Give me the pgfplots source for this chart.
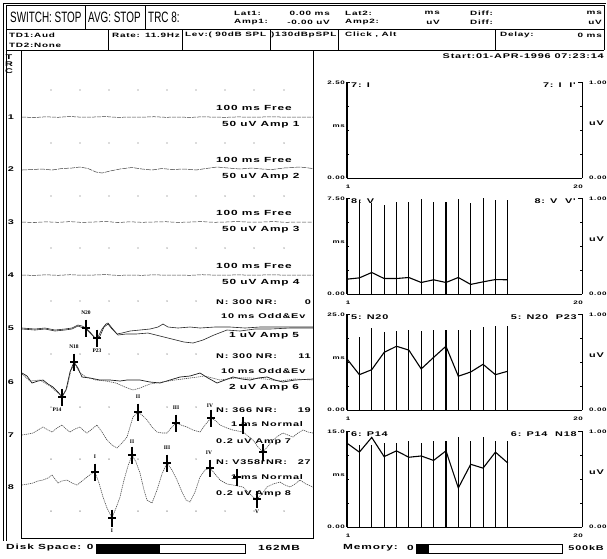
\documentclass[border=0pt]{standalone}
\usepackage{fontspec}
\usepackage{pgfplots}
\usepackage{pgfplotstable}
\pgfplotsset{compat=1.18}
\setmainfont{Liberation Sans}
\newfontfamily\scr{Liberation Sans}[FakeStretch=1.6,LetterSpace=12]
\newfontfamily\hdr{Liberation Sans}[FakeStretch=0.66]
\newfontfamily\rom{Liberation Serif}
\newcommand{\st}[1]{{\scr\bfseries\fontsize{7.4}{7.4}\selectfont #1}}
\newcommand{\sth}[1]{{\scr\bfseries\fontsize{6.2}{6.2}\selectfont #1}}
\newcommand{\stn}[1]{{\scr\bfseries\fontsize{6.8}{6.8}\selectfont #1}}
\newcommand{\sm}[1]{{\scr\bfseries\fontsize{5}{5}\selectfont #1}}
\newcommand{\rn}[1]{{\rom\bfseries\fontsize{5.5}{5.5}\selectfont #1}}

\pgfplotstableread{
i amp ms
1 0.97 1.16
2 0.98 1.26
3 0.95 1.68
4 0.93 1.21
5 0.96 1.21
6 0.96 1.29
7 0.99 0.90
8 0.96 1.11
9 0.96 0.90
10 0.99 1.29
11 0.95 0.75
12 1.00 0.95
13 0.98 1.13
14 0.98 1.11
}\tabV
\pgfplotstableread{
i amp ms
1 0.82 13.3
2 0.76 9.2
3 0.85 10.5
4 0.81 15.0
5 0.82 16.6
6 0.83 15.6
7 0.82 10.7
8 0.83 13.7
9 0.83 16.6
10 0.83 8.8
11 0.83 9.9
12 0.86 11.9
13 0.88 9.2
14 0.88 10.1
}\tabN
\pgfplotstableread{
i amp ms
1 0.85 13.1
2 0.85 11.7
3 0.85 14.0
4 0.87 11.0
5 0.87 11.9
6 0.90 10.9
7 0.88 11.1
8 0.90 10.4
9 0.90 11.9
10 0.94 6.1
11 0.90 9.8
12 0.94 9.2
13 0.90 11.7
14 0.90 10.0
}\tabP

\pgfplotsset{mini/.style={width=235pt,height=96pt,scale only axis,xmin=1,xmax=20,ymin=0,ymax=1,hide axis,clip=false,anchor=center}}
\newcommand{\frameit}{%
  \draw[line width=1.8pt] (rel axis cs:0,0) -- (rel axis cs:0,1);
  \draw[line width=0.5pt] (rel axis cs:0,1) -- (rel axis cs:0.012,1);
  \draw[line width=0.9pt] (rel axis cs:0,0) -- (rel axis cs:1,0);
  \draw[line width=0.9pt] (rel axis cs:1,0) -- (rel axis cs:1,1);
  \draw[line width=0.6pt] (rel axis cs:1,1) -- (rel axis cs:0.985,1);
  \draw[line width=0.6pt] (rel axis cs:1,0.25) -- (rel axis cs:0.99,0.25);
  \draw[line width=0.6pt] (rel axis cs:1,0.5) -- (rel axis cs:0.99,0.5);
  \draw[line width=0.6pt] (rel axis cs:1,0.75) -- (rel axis cs:0.99,0.75);
  \draw[line width=0.6pt] (rel axis cs:0,0.25) -- (rel axis cs:0.01,0.25);
  \draw[line width=0.6pt] (rel axis cs:0,0.5) -- (rel axis cs:0.01,0.5);
  \draw[line width=0.6pt] (rel axis cs:0,0.75) -- (rel axis cs:0.01,0.75);
}
\newcommand{\chartlabels}[5]{% cy, top label, left title, right title, right x
  \node[anchor=east,inner sep=0] at (345,#1-47) {\sm{#2}};
  \node[anchor=east,inner sep=0] at (345,#1-4) {\sm{ms}};
  \node[anchor=east,inner sep=0] at (345,#1+48) {\sm{0.00}};
  \node[inner sep=0] at (348,#1+57) {\sm{1}};
  \node[inner sep=0] at (578,#1+57) {\sm{20}};
  \node[anchor=west,inner sep=0] at (589,#1-47) {\sm{1.00}};
  \node[anchor=west,inner sep=0] at (589,#1-7) {\stn{uV}};
  \node[anchor=west,inner sep=0] at (589,#1+48) {\sm{0.00}};
  \node[anchor=west,inner sep=0] at (351,#1-45) {\stn{#3}};
  \node[anchor=east,inner sep=0] at (#5,#1-45) {\stn{#4}};
}

\begin{document}
\begin{tikzpicture}[x=1pt,y=-1pt]
\path[use as bounding box] (0,0) rectangle (607,558);
\fill[white] (0,0) rectangle (607,558);
% outer frame
\draw[line width=0.8pt] (3,3) -- (606,3);
\draw[line width=0.8pt] (3,3) -- (3,541);
\draw[line width=0.5pt] (6,5) -- (6,541);
% header row 1
\draw[line width=0.8pt] (6,5) rectangle (604,29);
\draw[line width=0.8pt] (85,5) -- (85,29);
\draw[line width=0.8pt] (145,5) -- (145,29);
\node[anchor=west,inner sep=0] at (10,17.5) {\hdr\fontsize{15}{15}\selectfont SWITCH: STOP};
\node[anchor=west,inner sep=0] at (88,17.5) {\hdr\fontsize{15}{15}\selectfont AVG: STOP};
\node[anchor=west,inner sep=0] at (148,17.5) {\hdr\fontsize{15}{15}\selectfont TRC 8:};
\node[anchor=west,inner sep=0] at (234,13) {\sth{Lat1:}};
\node[anchor=west,inner sep=0] at (234,22) {\sth{Amp1:}};
\node[anchor=east,inner sep=0] at (330,13) {\sth{0.00 ms}};
\node[anchor=east,inner sep=0] at (330,22) {\sth{-0.00 uV}};
\node[anchor=west,inner sep=0] at (345,13) {\sth{Lat2:}};
\node[anchor=west,inner sep=0] at (345,22) {\sth{Amp2:}};
\node[anchor=east,inner sep=0] at (440,13) {\sth{ms}};
\node[anchor=east,inner sep=0] at (440,22) {\sth{uV}};
\node[anchor=west,inner sep=0] at (470,13) {\sth{Diff:}};
\node[anchor=west,inner sep=0] at (470,22) {\sth{Diff:}};
\node[anchor=east,inner sep=0] at (602,13) {\sth{ms}};
\node[anchor=east,inner sep=0] at (602,22) {\sth{uV}};
% header row 2
\draw[line width=0.8pt] (6,50) -- (604,50);
\draw[line width=0.8pt] (604,29) -- (604,50);
\foreach \xx in {108,182,270,338,495} {\draw[line width=0.8pt] (\xx,29) -- (\xx,50);}
\node[anchor=west,inner sep=0] at (9,35) {\sth{TD1:Aud}};
\node[anchor=west,inner sep=0] at (9,45) {\sth{TD2:None}};
\node[anchor=west,inner sep=0] at (112,35) {\sth{Rate:}};
\node[anchor=east,inner sep=0] at (180,35) {\sth{11.9Hz}};
\node[anchor=west,inner sep=0] at (185,35) {\sth{Lev:( 90dB SPL}};
\node[anchor=west,inner sep=0] at (271,35) {\sth{)130dBpSPL}};
\node[anchor=west,inner sep=0] at (345,35) {\sth{Click , Alt}};
\node[anchor=west,inner sep=0] at (500,35) {\sth{Delay:}};
\node[anchor=east,inner sep=0] at (602,35) {\sth{0 ms}};
\node[anchor=east,inner sep=0] at (604,56) {\stn{Start:01-APR-1996 07:23:14}};
% trace numbers
\node[inner sep=0] at (9,57) {\stn{T}};
\node[inner sep=0] at (9,64) {\stn{R}};
\node[inner sep=0] at (9,71) {\stn{C}};
\foreach \k/\yy in {1/117,2/169,3/222,4/275,5/328,6/382,7/435,8/487} {\node[inner sep=0] at (11,\yy) {\stn{\k}};}
% trace text
\foreach \k/\yy in {1/117,2/169,3/222,4/275} {
  \node[anchor=west,inner sep=0] at (216,\yy-9) {\st{100 ms Free}};
  \node[anchor=west,inner sep=0] at (222,\yy+8) {\st{50 uV Amp \k}};
}
\node[anchor=west,inner sep=0] at (216,302) {\stn{N: 300 NR:}};
\node[anchor=east,inner sep=0] at (311,302) {\stn{0}};
\node[anchor=west,inner sep=0] at (221,316) {\stn{10 ms Odd\&Ev}};
\node[anchor=west,inner sep=0] at (229,336) {\st{1 uV Amp 5}};
\node[anchor=west,inner sep=0] at (216,356) {\stn{N: 300 NR:}};
\node[anchor=east,inner sep=0] at (311,356) {\stn{11}};
\node[anchor=west,inner sep=0] at (221,371) {\stn{10 ms Odd\&Ev}};
\node[anchor=west,inner sep=0] at (229,388) {\st{2 uV Amp 6}};
\node[anchor=west,inner sep=0] at (216,410) {\stn{N: 366 NR:}};
\node[anchor=east,inner sep=0] at (311,410) {\stn{19}};
\node[anchor=west,inner sep=0] at (231,424) {\stn{1 ms Normal}};
\node[anchor=west,inner sep=0] at (216,442) {\stn{0.2 uV Amp 7}};
\node[anchor=west,inner sep=0] at (216,462) {\stn{N: V358rNR:}};
\node[anchor=east,inner sep=0] at (311,462) {\stn{27}};
\node[anchor=west,inner sep=0] at (231,477) {\stn{1 ms Normal}};
\node[anchor=west,inner sep=0] at (216,494) {\stn{0.2 uV Amp 8}};

% left panel
\begin{axis}[at={(167pt,-294pt)},anchor=center,width=292pt,height=488pt,scale only axis,
  xmin=21,xmax=313,ymin=50,ymax=538,y dir=reverse,xtick=\empty,ytick=\empty,
  axis line style={line width=0.9pt},clip=false]
\addplot[only marks,mark=*,mark size=0.45pt,black!45] coordinates {
(51,90)(80,90)(109,90)(138,90)(167,90)(196,90)(225,90)(254,90)(284,90)
(51,143)(80,143)(109,143)(138,143)(167,143)(196,143)(225,143)(254,143)(284,143)
(51,196)(80,196)(109,196)(138,196)(167,196)(196,196)(225,196)(254,196)(284,196)
(51,248)(80,248)(109,248)(138,248)(167,248)(196,248)(225,248)(254,248)(284,248)
(51,301)(80,301)(109,301)(138,301)(167,301)(196,301)
(51,354)(80,354)(109,354)(138,354)(167,354)(196,354)
(51,407)(80,407)(109,407)(167,407)(196,407)
(51,459)(80,459)(109,459)(138,459)(196,459)
(51,511)(80,511)(138,511)(167,511)(196,511)(225,511)(254,511)(284,511)
};
% traces 1-4
\addplot[black!75,line width=0.5pt,dash pattern=on 4pt off 1pt] coordinates {(22,117)(34,117.5)(46,116.8)(58,117.3)(70,116.5)(82,117.2)(94,117)(106,116.6)(118,117.4)(130,117)(142,117.2)(154,116.7)(166,117.3)(178,117)(190,117.4)(202,116.8)(214,117.1)(226,117.3)(238,116.9)(250,117.2)(262,117)(274,116.8)(286,117.2)(298,117)(313,117)};
\addplot[black!75,line width=0.5pt,dash pattern=on 5pt off 1pt] coordinates {(22,170)(32,169.5)(42,169)(52,170)(62,168.5)(72,168)(80,167)(88,168.5)(96,172)(102,173)(110,171)(120,169)(132,167.5)(142,169)(152,170)(162,168.5)(172,169.5)(184,169)(196,170)(206,168.5)(217,167)(228,168)(240,169)(252,168)(262,169)(272,169.5)(284,168)(300,167)(313,168.5)};
\addplot[black!75,line width=0.5pt,dash pattern=on 4pt off 1.5pt] coordinates {(22,222)(34,222.5)(46,221.8)(58,222.3)(70,221.6)(82,222.4)(94,222)(106,221.5)(118,222.5)(130,221.8)(142,222.3)(154,222)(166,221.7)(178,222.4)(190,222)(202,221.6)(214,222.3)(226,222)(238,221.5)(250,222.2)(262,222)(274,221.6)(286,222.3)(298,222)(313,222)};
\addplot[black!75,line width=0.5pt,dash pattern=on 4pt off 1pt] coordinates {(22,275)(34,275.4)(46,274.8)(58,275.3)(70,274.7)(82,275.2)(94,275)(106,274.6)(118,275.4)(130,275)(142,275.3)(154,274.8)(166,275.2)(178,275)(190,275.3)(202,274.7)(214,275.1)(226,275.2)(238,274.8)(250,275.2)(262,275)(274,274.8)(286,275.2)(298,275)(313,275)};
% trace 5
\addplot[black!85,line width=0.6pt] coordinates {(22,328)(35,329)(45,328)(55,330)(65,329)(72,328)(78,325)(82,326)(86,328)(90,332)(95,338)(98,337)(102,329)(106,324)(108,323)(112,328)(117,334)(122,333)(130,331)(140,330)(150,329)(158,327)(163,324)(168,327)(178,328)(190,327)(200,328)(215,327)(230,327)(245,328)(260,327)(275,327)(290,327)(313,327)};
\addplot[black!85,line width=0.6pt] coordinates {(22,329)(35,330)(45,329)(55,331)(65,330)(72,329)(78,326)(86,329)(90,333)(96,339)(100,336)(104,327)(108,324)(112,329)(118,335)(126,334)(136,334)(148,333)(160,336)(172,339)(184,342)(193,343)(203,340)(214,335)(227,330)(240,331)(255,329)(270,329)(290,328)(313,328)};
% trace 6
\addplot[black!90,line width=0.7pt] coordinates {(22,373)(27,376)(32,383)(38,381)(43,380)(48,384)(53,387)(58,392)(62,397)(66,390)(70,372)(74,362)(78,368)(82,377)(90,378)(100,380)(110,380)(120,381)(127,380)(140,380)(150,382)(160,383)(170,380)(180,377)(190,376)(200,373)(208,378)(217,383)(225,380)(233,377)(242,379)(250,380)(258,378)(267,377)(275,380)(283,382)(295,380)(313,379)};
\addplot[black!70,line width=0.6pt,dash pattern=on 1.2pt off 0.8pt] coordinates {(22,374)(30,381)(40,380)(50,386)(58,393)(62,396)(67,388)(71,370)(75,364)(80,373)(86,377)(96,380)(106,381)(116,383)(125,387)(133,390)(140,388)(150,384)(162,382)(175,380)(190,378)(205,376)(220,380)(235,378)(250,378)(265,379)(280,381)(295,379)(313,380)};
% trace 7
\addplot[black!70,line width=0.6pt,dash pattern=on 1.2pt off 0.8pt] coordinates {(22,435)(28,434)(33,433)(38,430)(43,427)(48,430)(52,432)(57,428)(62,425)(66,429)(70,432)(75,429)(80,427)(84,431)(87,433)(92,429)(97,425)(102,432)(107,440)(112,445)(117,448)(122,443)(127,437)(130,427)(133,417)(138,412)(142,415)(147,420)(152,427)(157,432)(162,433)(167,433)(171,428)(176,423)(181,425)(187,427)(193,430)(200,432)(205,425)(211,418)(216,421)(220,425)(227,428)(233,430)(238,431)(243,432)(248,436)(253,440)(258,447)(263,452)(268,446)(273,440)(278,436)(283,433)(288,435)(293,437)(298,433)(303,430)(308,432)(313,433)};
% trace 8
\addplot[black!70,line width=0.6pt,dash pattern=on 1.2pt off 0.8pt] coordinates {(22,485)(28,484)(33,483)(38,481)(43,480)(48,478)(52,475)(55,479)(58,483)(62,481)(67,480)(72,483)(77,485)(82,481)(87,477)(91,474)(95,472)(99,483)(103,497)(107,508)(112,518)(116,508)(120,497)(124,480)(128,466)(132,455)(136,462)(140,473)(144,490)(147,500)(152,503)(157,490)(162,474)(167,463)(172,470)(177,480)(182,492)(186,500)(190,502)(195,492)(200,477)(205,470)(210,468)(215,474)(220,480)(227,484)(233,485)(238,486)(243,487)(248,492)(253,497)(257,499)(262,494)(267,487)(273,484)(280,482)(285,485)(290,487)(295,484)(300,480)(306,484)(313,487)};
% peak markers
\addplot[only marks,mark=|,mark size=8.5pt,line width=1.2pt] coordinates {(86,328)(97,338)(74,362)(62,397)(138,412)(176,423)(211,418)(243,425)(263,452)(95,472)(112,518)(132,455)(167,463)(210,468)(237,477)(257,499)};
\addplot[only marks,mark=-,mark size=4pt,line width=1.2pt] coordinates {(86,328)(97,338)(74,362)(62,397)(138,412)(176,423)(211,418)(243,425)(263,452)(95,472)(112,518)(132,455)(167,463)(210,468)(237,477)(257,499)};
\node[inner sep=0] at (86,313) {\rn{N20}};
\node[inner sep=0] at (97,351) {\rn{P23}};
\node[inner sep=0] at (74,347) {\rn{N18}};
\node[inner sep=0] at (57,410) {\rn{P14}};
\node[inner sep=0] at (138,397) {\rn{II}};
\node[inner sep=0] at (176,408) {\rn{III}};
\node[inner sep=0] at (210,406) {\rn{IV}};
\node[inner sep=0] at (95,457) {\rn{I}};
\node[inner sep=0] at (112,531) {\rn{I}};
\node[inner sep=0] at (132,442) {\rn{II}};
\node[inner sep=0] at (167,448) {\rn{III}};
\node[inner sep=0] at (209,453) {\rn{IV}};
\node[inner sep=0] at (257,512) {\rn{V}};
\end{axis}

% chart 7
\begin{axis}[mini,at={(464.5pt,-130pt)}]
\addplot[ycomb,line width=1.4pt,mark=none] coordinates {(1,0.97)};
\frameit
\end{axis}
\chartlabels{130}{2.50}{7: I}{7: I\ \ I'}{576}
% chart 8
\begin{axis}[mini,at={(464.5pt,-246pt)}]
\addplot[ycomb,line width=1.1pt,mark=none] table[x=i,y=amp]{\tabV};
\frameit
\end{axis}
\begin{axis}[mini,ymax=7.5,at={(464.5pt,-246pt)}]
\addplot[line width=1.1pt,mark=none] table[x=i,y=ms]{\tabV};
\end{axis}
\chartlabels{246}{7.50}{8: V}{8: V\ \ V'}{576}
% chart 5
\begin{axis}[mini,at={(464.5pt,-362pt)}]
\addplot[ycomb,line width=1.1pt,mark=none] table[x=i,y=amp]{\tabN};
\frameit
\end{axis}
\begin{axis}[mini,ymax=25,at={(464.5pt,-362pt)}]
\addplot[line width=1.1pt,mark=none] table[x=i,y=ms]{\tabN};
\end{axis}
\chartlabels{362}{25.0}{5: N20}{5: N20\ \ P23}{577}
% chart 6
\begin{axis}[mini,at={(464.5pt,-479pt)}]
\addplot[ycomb,line width=1.1pt,mark=none] table[x=i,y=amp]{\tabP};
\frameit
\end{axis}
\begin{axis}[mini,ymax=15,at={(464.5pt,-479pt)}]
\addplot[line width=1.1pt,mark=none] table[x=i,y=ms]{\tabP};
\end{axis}
\chartlabels{479}{15.0}{6: P14}{6: P14\ \ N18}{577}

% bottom status
\node[anchor=west,inner sep=0] at (6,548) {\st{Disk Space: 0}};
\draw[line width=0.6pt] (96,544) rectangle (245,553);
\fill[black] (96,544) rectangle (160,553);
\node[anchor=west,inner sep=0] at (258,548) {\st{162MB}};
\node[anchor=west,inner sep=0] at (343,548) {\st{Memory:}};
\node[anchor=west,inner sep=0] at (407,548) {\st{0}};
\draw[line width=0.6pt] (416,544) rectangle (562,553);
\fill[black] (416,544) rectangle (429,553);
\node[anchor=east,inner sep=0] at (604,548) {\stn{500kB}};
\end{tikzpicture}
\end{document}
